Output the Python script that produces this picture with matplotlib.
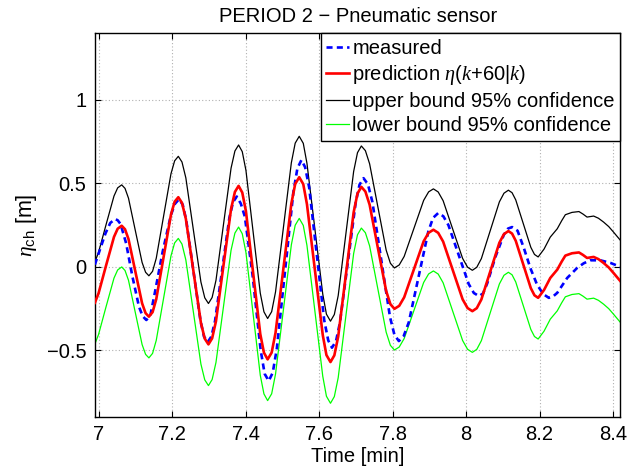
import matplotlib
matplotlib.use("Agg")
import matplotlib.pyplot as plt
from matplotlib.ticker import FuncFormatter

# time axis [min] and values [m]
t_pred = [6.99, 7.0, 7.02, 7.042, 7.052, 7.063, 7.072, 7.0815, 7.1, 7.1185, 7.128, 7.137,
          7.147, 7.157, 7.177, 7.197, 7.207, 7.217, 7.227, 7.2375, 7.258, 7.2785, 7.289, 7.299,
          7.309, 7.3195, 7.34, 7.3605, 7.371, 7.381, 7.391, 7.401, 7.4205, 7.44, 7.450, 7.46,
          7.471, 7.4815, 7.503, 7.5245, 7.535, 7.546, 7.557, 7.567, 7.5885, 7.61, 7.620, 7.631,
          7.6415, 7.652, 7.673, 7.694, 7.7045, 7.715, 7.726, 7.7375, 7.76, 7.7825, 7.794, 7.805,
          7.818, 7.8315, 7.858, 7.8845, 7.898, 7.911, 7.924, 7.9375, 7.964, 7.9905, 8.004, 8.017,
          8.029, 8.0415, 8.066, 8.0905, 8.103, 8.115, 8.125, 8.135, 8.1555, 8.176, 8.186, 8.196,
          8.212, 8.229, 8.248, 8.26, 8.27, 8.288, 8.307, 8.318, 8.329, 8.347, 8.36, 8.374,
          8.388, 8.401, 8.42]

prediction = [-0.217, -0.16, 0.003, 0.178, 0.227, 0.245, 0.224, 0.165, -0.028, -0.220, -0.279, -0.300,
              -0.273, -0.195, 0.058, 0.311, 0.389, 0.416, 0.382, 0.287, -0.025, -0.337, -0.432, -0.466,
              -0.430, -0.327, 0.009, 0.345, 0.448, 0.484, 0.444, 0.332, -0.036, -0.404, -0.516, -0.556,
              -0.515, -0.397, -0.010, 0.377, 0.495, 0.536, 0.494, 0.374, -0.018, -0.410, -0.530, -0.572,
              -0.532, -0.419, -0.047, 0.325, 0.438, 0.478, 0.450, 0.371, 0.112, -0.146, -0.225, -0.253,
              -0.235, -0.184, -0.016, 0.152, 0.203, 0.221, 0.2025, 0.150, -0.023, -0.196, -0.2485, -0.267,
              -0.249, -0.197, -0.027, 0.143, 0.195, 0.213, 0.198, 0.155, 0.013, -0.129, -0.172, -0.187,
              -0.140, -0.068, -0.018, 0.030, 0.066, 0.080, 0.085, 0.070, 0.052, 0.058, 0.045, 0.022,
              -0.005, -0.038, -0.088]

upper = [0.028, 0.085, 0.248, 0.423, 0.472, 0.49, 0.469, 0.41, 0.217, 0.025, -0.034, -0.055,
         -0.028, 0.05, 0.303, 0.556, 0.634, 0.661, 0.627, 0.532, 0.22, -0.092, -0.187, -0.221,
         -0.185, -0.082, 0.254, 0.59, 0.693, 0.729, 0.689, 0.577, 0.209, -0.159, -0.271, -0.311,
         -0.27, -0.152, 0.235, 0.622, 0.74, 0.781, 0.739, 0.619, 0.227, -0.165, -0.285, -0.327,
         -0.287, -0.174, 0.198, 0.57, 0.683, 0.723, 0.695, 0.616, 0.357, 0.099, 0.02, -0.008,
         0.01, 0.061, 0.229, 0.397, 0.448, 0.466, 0.4475, 0.395, 0.222, 0.049, -0.0035, -0.022,
         -0.004, 0.048, 0.218, 0.388, 0.44, 0.458, 0.443, 0.4, 0.258, 0.116, 0.073, 0.058,
         0.105, 0.177, 0.227, 0.275, 0.311, 0.325, 0.33, 0.315, 0.297, 0.303, 0.29, 0.267,
         0.24, 0.207, 0.157]

lower = [-0.464, -0.407, -0.244, -0.069, -0.02, -0.002, -0.023, -0.082, -0.275, -0.467, -0.526, -0.547,
         -0.52, -0.442, -0.189, 0.064, 0.142, 0.169, 0.135, 0.04, -0.272, -0.584, -0.679, -0.713,
         -0.677, -0.574, -0.238, 0.098, 0.201, 0.237, 0.197, 0.085, -0.283, -0.651, -0.763, -0.803,
         -0.762, -0.644, -0.257, 0.13, 0.248, 0.289, 0.247, 0.127, -0.265, -0.657, -0.777, -0.819,
         -0.779, -0.666, -0.294, 0.078, 0.191, 0.231, 0.203, 0.124, -0.135, -0.393, -0.472, -0.5,
         -0.482, -0.431, -0.263, -0.095, -0.044, -0.026, -0.0445, -0.097, -0.27, -0.443, -0.4955, -0.514,
         -0.496, -0.444, -0.274, -0.104, -0.052, -0.034, -0.049, -0.092, -0.234, -0.376, -0.419, -0.434,
         -0.387, -0.315, -0.265, -0.217, -0.181, -0.167, -0.162, -0.177, -0.195, -0.189, -0.202, -0.225,
         -0.252, -0.285, -0.335]

t_meas = [6.99, 7.005, 7.019, 7.032, 7.045, 7.052, 7.06, 7.075, 7.092, 7.11, 7.12, 7.13,
          7.141, 7.152, 7.1745, 7.197, 7.208, 7.219, 7.229, 7.2385, 7.258, 7.2775, 7.287, 7.297,
          7.307, 7.317, 7.3365, 7.356, 7.366, 7.376, 7.387, 7.398, 7.4195, 7.441, 7.452, 7.463,
          7.474, 7.485, 7.5075, 7.53, 7.541, 7.552, 7.562, 7.573, 7.5935, 7.614, 7.625, 7.635,
          7.646, 7.6565, 7.678, 7.6995, 7.71, 7.721, 7.733, 7.745, 7.769, 7.793, 7.805, 7.817,
          7.83, 7.844, 7.8705, 7.897, 7.91, 7.924, 7.938, 7.952, 7.9795, 8.007, 8.021, 8.035,
          8.046, 8.0575, 8.08, 8.1025, 8.114, 8.125, 8.14, 8.157, 8.175, 8.193, 8.21, 8.225,
          8.236, 8.248, 8.275, 8.302, 8.32, 8.338, 8.365, 8.393, 8.42]

measured = [0.012, 0.11, 0.20, 0.262, 0.285, 0.278, 0.255, 0.14, -0.058, -0.24, -0.297, -0.320,
            -0.292, -0.17, 0.09, 0.31, 0.377, 0.404, 0.371, 0.279, -0.024, -0.327, -0.42, -0.452,
            -0.419, -0.325, -0.016, 0.293, 0.387, 0.420, 0.378, 0.30, -0.06, -0.50, -0.643, -0.685,
            -0.635, -0.492, -0.023, 0.446, 0.589, 0.639, 0.596, 0.475, 0.077, -0.322, -0.443, -0.486,
            -0.447, -0.338, 0.022, 0.382, 0.491, 0.53, 0.493, 0.388, 0.042, -0.303, -0.409, -0.446,
            -0.417, -0.334, -0.063, 0.209, 0.292, 0.321, 0.302, 0.248, 0.072, -0.104, -0.158, -0.177,
            -0.161, -0.10, 0.06, 0.19, 0.228, 0.237, 0.215, 0.112, -0.01, -0.108, -0.165, -0.187,
            -0.18, -0.157, -0.068, -0.008, 0.02, 0.038, 0.038, 0.022, -0.002]

x_ticks = [7.0, 7.2, 7.4, 7.6, 7.8, 8.0, 8.2, 8.4]
y_ticks = [-0.5, 0.0, 0.5, 1.0]

plt.rcParams['font.family'] = ['Liberation Sans', 'DejaVu Sans']
plt.rcParams['mathtext.fontset'] = 'custom'
plt.rcParams['mathtext.rm'] = 'Liberation Sans'
plt.rcParams['mathtext.it'] = 'Liberation Serif:italic'

fs = 14.5

###############base setting################
fig = plt.figure(figsize=(6.41, 4.72), dpi=100)
ax = fig.add_axes([0.148, 0.117, 0.82, 0.813])

###############draw lines################
ax.plot(t_meas, measured, color='#0000ff', linewidth=1.9, linestyle=(0, (2.3, 1.6)), label='measured', zorder=3)
ax.plot(t_pred, prediction, color='#ff0000', linewidth=1.9, label=r'prediction $\eta$($k$+60|$k$)', zorder=4)
ax.plot(t_pred, upper, color='k', linewidth=0.9, label='upper bound 95% confidence', zorder=2)
ax.plot(t_pred, lower, color='#00ff00', linewidth=0.9, label='lower bound 95% confidence', zorder=2)

leg = ax.legend(loc='upper right', fontsize=fs, borderaxespad=0, fancybox=False,
                framealpha=1, edgecolor='k', handlelength=1.15, handletextpad=0.15,
                borderpad=0.28, labelspacing=0.26)
leg.get_frame().set_linewidth(1.0)

###############draw grid################
ax.grid(True, linestyle=(0, (1, 2)), color='#b0b0b0', linewidth=0.8)
ax.set_axisbelow(True)

##############axis setting###############
ax.set_xlim(6.99, 8.42)
ax.set_ylim(-0.9, 1.4)
ax.set_xticks(x_ticks)
ax.set_yticks(y_ticks)
fmt = FuncFormatter(lambda v, p: ('%g' % v).replace('-', '\u2212'))
ax.xaxis.set_major_formatter(fmt)
ax.yaxis.set_major_formatter(fmt)
ax.tick_params(direction='in', length=4, width=0.8, labelsize=fs, top=True, right=True, pad=6)
for s in ax.spines.values():
    s.set_linewidth(1.0)

ax.set_xlabel('Time [min]', fontsize=fs, labelpad=2)
ax.set_ylabel(r'$\eta_{\rm ch}$ [m]', fontsize=fs + 1, labelpad=6)
ax.set_title('PERIOD 2 \u2212 Pneumatic sensor', fontsize=fs, pad=8)

fig.savefig('out.png', dpi=100)
